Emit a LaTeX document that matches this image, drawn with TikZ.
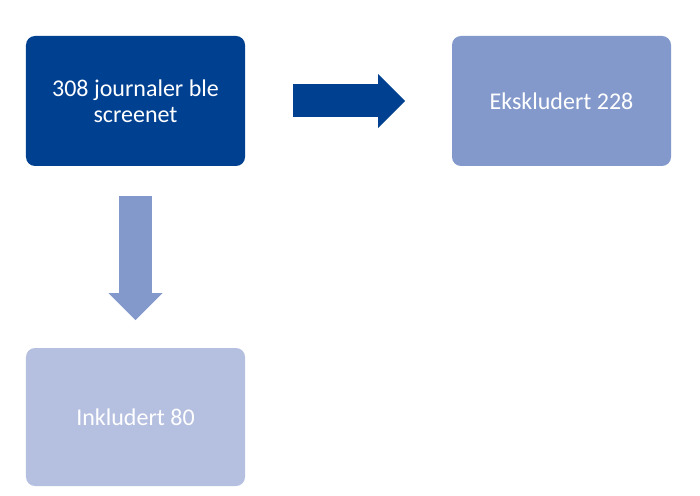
\documentclass[tikz,border=0pt]{standalone}
\usepackage{fontspec}
\setmainfont{Carlito}
\usepackage[svgnames]{xcolor}
\usetikzlibrary{calc, arrows.meta}
\definecolor{boxdark}{RGB}{0,64,145}
\definecolor{boxmid}{RGB}{131,153,203}
\definecolor{boxlight}{RGB}{181,191,224}
\tikzset{
  flowbox/.style={rounded corners=9bp, minimum width=219bp, inner sep=0pt,
    text=white, align=center, font=\fontsize{24bp}{26bp}\selectfont},
  blockarrow/.style={line width=33bp,
    -{Triangle[width=54bp,length=27bp,line width=0pt]}}
}

\begin{document}
\begin{tikzpicture}[x=1bp,y=-1bp]
  \useasboundingbox (0,0) rectangle (700,496);
  \coordinate (S) at (135.5,101);
  \coordinate (E) at (561.5,101);
  \coordinate (I) at (135.5,417);

  % BOXES
  \node[flowbox, fill=boxdark, minimum height=130bp] (screen) at (S) {308 journaler ble\\screenet};
  \node[flowbox, fill=boxmid, minimum height=130bp] (eks) at (E) {Ekskludert 228};
  \node[flowbox, fill=boxlight, minimum height=138bp] (ink) at (I) {Inkludert 80};

  % ARROWS
  \draw[blockarrow, boxdark] ($(screen.east)+(48,0)$) -- ($(screen.east)+(160,0)$);
  \draw[blockarrow, boxmid] ($(screen.south)+(0,30)$) -- ($(screen.south)+(0,154)$);
\end{tikzpicture}
\end{document}
